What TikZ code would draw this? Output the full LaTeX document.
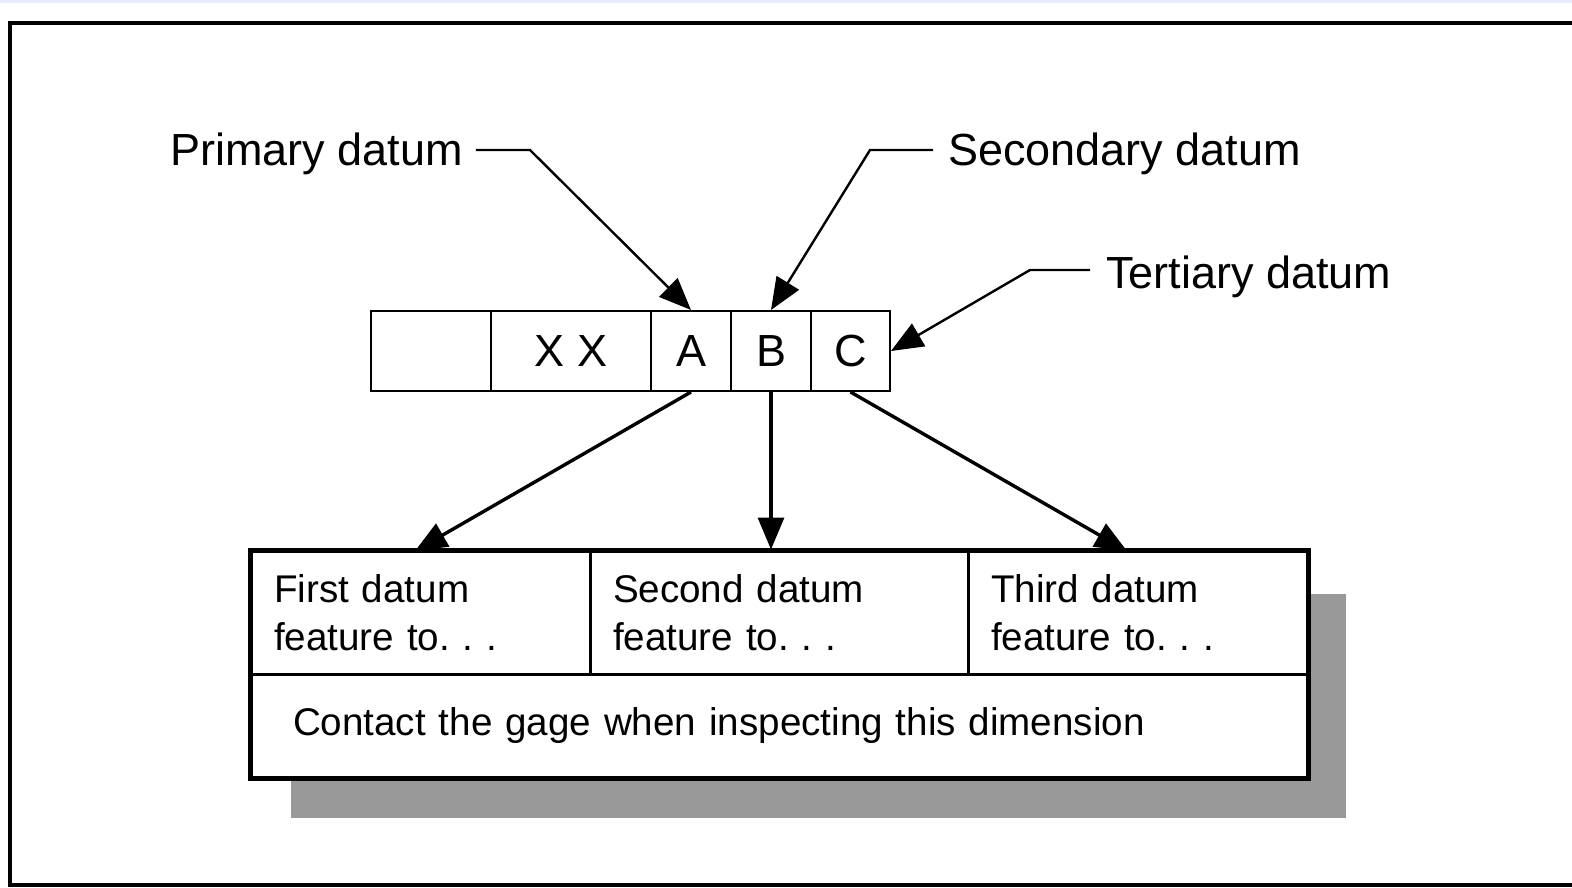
\documentclass[tikz,border=0pt]{standalone}
\usepackage{fontspec}
\setmainfont{Liberation Sans}
\usetikzlibrary{arrows.meta}
\begin{document}
\begin{tikzpicture}[x=1pt,y=-1pt,
  lbl/.style={inner sep=0pt,font=\fontsize{45}{54}\selectfont},
  cell/.style={draw,line width=2pt,minimum height=80pt,inner sep=0pt,font=\fontsize{45}{54}\selectfont},
  tcell/.style={draw,line width=3pt,minimum height=123pt,inner xsep=23pt,inner ysep=0pt,align=left,font=\fontsize{38.6}{48}\selectfont},
  arr/.style={line width=3.4pt,-{Triangle[length=32pt,width=26pt]}},
  lead/.style={line width=2.4pt,-{Triangle[length=32pt,width=26pt]}}]
\useasboundingbox (0,0) rectangle (1572,888);
\fill[blue!8] (0,0) rectangle (1572,3);
% outer frame
\draw[line width=4pt] (1580,23) -- (10,23) -- (10,885) -- (1580,885);
% shadow
\fill[black!40] (291,594) rectangle (1346,818);
\fill[white] (251,551) rectangle (1307,777);
% feature control frame
\node[cell,minimum width=120pt] (c0) at (431,351) {};
\node[cell,minimum width=160pt] (xx) at (571,351) {X X};
\node[cell,minimum width=80pt] (A) at (691,351) {A};
\node[cell,minimum width=80pt] (B) at (771,351) {B};
\node[cell,minimum width=79pt] (C) at (850.5,351) {C};
% table
\node[tcell,minimum width=339pt,text width=293pt] (f1) at (420.5,612.5) {First datum\\feature to.\ .\ .};
\node[tcell,minimum width=378pt,text width=332pt] (f2) at (779,612.5) {Second datum\\feature to.\ .\ .};
\node[tcell,minimum width=339pt,text width=293pt] (f3) at (1137.5,612.5) {Third datum\\feature to.\ .\ .};
\node[tcell,minimum width=1056pt,minimum height=103pt,inner xsep=42pt,text width=972pt] (ct) at (779,725.5) {Contact the gage when inspecting this dimension};
\draw[line width=4pt] (f1.north west) rectangle (ct.south east);
% labels
\node[lbl,anchor=base west] (prim) at (170,166) {Primary datum};
\node[lbl,anchor=base west] (sec) at (948,166) {Secondary datum};
\node[lbl,anchor=base west] (ter) at (1106,288) {Tertiary datum};
% leader bends
\coordinate (p1) at (530,150);
\coordinate (s1) at (870,150);
\coordinate (r1) at (1030,270);
\draw[lead] (prim.east |- p1) ++(13,0) -- (p1) -- (A.north);
\draw[lead] (sec.west |- s1) ++(-15,0) -- (s1) -- (B.north);
\draw[lead] (ter.west |- r1) ++(-16,0) -- (r1) -- (C.east);
% arrows down
\coordinate (t1) at (415,551);
\coordinate (t3) at (1127,551);
\draw[arr] (A.south) -- (t1);
\draw[arr] (B.south) -- (f2.north -| B.south);
\draw[arr] (C.south) -- (t3);
\end{tikzpicture}
\end{document}
